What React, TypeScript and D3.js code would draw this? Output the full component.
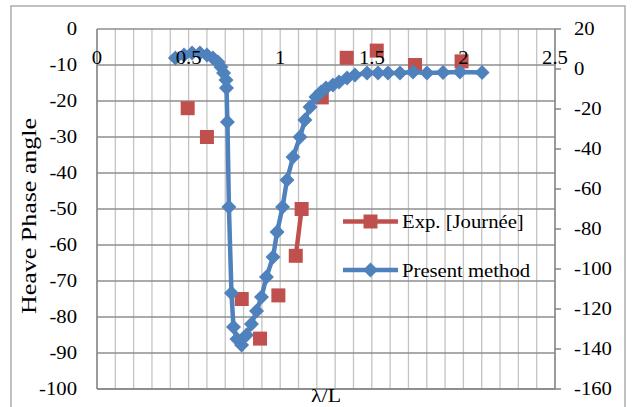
import React from "react";
import * as d3 from "d3";

// ---- data ----
const xTicks = [0, 0.5, 1, 1.5, 2, 2.5];
const leftTicks = [0, -10, -20, -30, -40, -50, -60, -70, -80, -90, -100];
const rightTicks = [20, 0, -20, -40, -60, -80, -100, -120, -140, -160];

// Present method (secondary / right axis)
const presentLambda = [
  0.428, 0.475, 0.519, 0.562, 0.6, 0.633, 0.66, 0.677, 0.691, 0.704, 0.707,
  0.712, 0.72, 0.734, 0.745, 0.764, 0.789, 0.816, 0.843, 0.871, 0.898, 0.925,
  0.961, 0.983, 1.013, 1.037, 1.07, 1.108, 1.135, 1.163, 1.195, 1.223, 1.25,
  1.288, 1.321, 1.365, 1.408, 1.474, 1.534, 1.588, 1.654, 1.725, 1.801, 1.889,
  1.981, 2.102,
];
const presentPhase = [
  5.5, 7, 8, 8, 7, 5.5, 3.5, 1, -2, -5.5, -9.5, -26.5, -69, -112, -129, -135,
  -138, -133, -127.5, -121, -114, -104, -94, -81.5, -69, -55.5, -44, -34,
  -25.5, -19, -14, -11.5, -9.5, -8, -6.5, -4.5, -3, -2, -2, -2, -2, -1.5, -2,
  -1.75, -1.5, -1.75,
];

// Exp. [Journée] (primary / left axis); null = gap between points
const expLambda = [
  0.495, null, 0.6, null, 0.79, null, 0.89, null, 0.99, null, 1.085, 1.117,
  null, 1.227, null, 1.363, null, 1.527, null, 1.736, null, 1.99,
];
const expPhase = [
  -22, null, -30, null, -75, null, -86, null, -74, null, -63, -50, null, -19,
  null, -8, null, -6, null, -10, null, -9,
];

const W = 632;
const H = 407;
const L = 97;
const R = 555;
const T = 29;
const B = 389;

const FONT = "'Liberation Serif', 'Times New Roman', serif";
const BLUE = "#4F81BD";
const RED = "#C0504D";

function Txt({ x, y, anchor = "start", size = 18, children }: any) {
  return (
    <text
      transform={`translate(${x},${y}) scale(1.15,1)`}
      textAnchor={anchor}
      fontFamily={FONT}
      fontSize={size}
      fill="#000"
    >
      {children}
    </text>
  );
}

const diamond = (s: number) => `M0,${-s}L${s},0L0,${s}L${-s},0Z`;
const DS = 7.5; // diamond half-diagonal
const SQ = 14; // square side

export default function App() {
  const x = d3.scaleLinear().domain([0, 2.5]).range([L, R]);
  const yL = d3.scaleLinear().domain([0, -100]).range([T, B]);
  const yR = d3.scaleLinear().domain([20, -160]).range([T, B]);

  const present = presentLambda.map((l, i) => [l, presentPhase[i]] as [number, number]);
  const exp = expLambda.map((l, i) => [l, expPhase[i]] as [number | null, number | null]);

  const presentLine = d3
    .line<[number, number]>()
    .x((d) => x(d[0]))
    .y((d) => yR(d[1]))(present) as string;

  const expLine = d3
    .line<[number | null, number | null]>()
    .defined((d) => d[0] !== null && d[1] !== null)
    .x((d) => x(d[0] as number))
    .y((d) => yL(d[1] as number))(exp) as string;

  const vGrid = d3.range(0, 26).map((i) => i / 10);

  return (
    <svg
      width={W}
      height={H}
      style={{ position: "absolute", left: 0, top: 0, background: "#fff" }}
    >
      <rect x={0} y={0} width={W} height={H} fill="#fff" />
      <rect x={11} y={6} width={614} height={420} fill="none" stroke="#a0a0a0" strokeWidth={1.3} />

      {/* vertical grid */}
      {vGrid.map((v, i) => (
        <line key={"v" + i} x1={x(v)} x2={x(v)} y1={T} y2={B} stroke="#c4c4c4" strokeWidth={1.3} />
      ))}
      {/* horizontal grid */}
      {leftTicks.map((v) => (
        <line key={"h" + v} x1={L} x2={R} y1={yL(v)} y2={yL(v)} stroke="#8e8e8e" strokeWidth={1.3} />
      ))}

      {/* axes */}
      <line x1={L} x2={L} y1={T} y2={B} stroke="#868686" strokeWidth={1.5} />
      <line x1={R} x2={R} y1={T} y2={B} stroke="#868686" strokeWidth={1.5} />
      <line x1={L} x2={R} y1={B} y2={B} stroke="#868686" strokeWidth={1.5} />
      {rightTicks.map((v) => (
        <line key={"rt" + v} x1={R} x2={R + 6} y1={yR(v)} y2={yR(v)} stroke="#868686" strokeWidth={1.5} />
      ))}

      {/* left tick labels */}
      {leftTicks.map((v) => (
        <Txt key={"lt" + v} x={77} y={yL(v) + 6} anchor="end">
          {String(v)}
        </Txt>
      ))}
      {/* right tick labels */}
      {rightTicks.map((v) => (
        <Txt key={"rl" + v} x={574} y={yR(v) + 6} anchor="start">
          {String(v)}
        </Txt>
      ))}

      {/* Exp series */}
      <path d={expLine} fill="none" stroke={RED} strokeWidth={4.5} />
      {exp
        .filter((d) => d[0] !== null)
        .map((d, i) => (
          <rect
            key={"e" + i}
            x={x(d[0] as number) - SQ / 2}
            y={yL(d[1] as number) - SQ / 2}
            width={SQ}
            height={SQ}
            fill={RED}
          />
        ))}

      {/* Present method */}
      <path d={presentLine} fill="none" stroke={BLUE} strokeWidth={4.5} strokeLinejoin="round" />
      {present.map((d, i) => (
        <path
          key={"p" + i}
          d={diamond(DS)}
          transform={`translate(${x(d[0])},${yR(d[1])})`}
          fill={BLUE}
        />
      ))}

      {/* x tick labels (drawn on top) */}
      {xTicks.map((v) => (
        <Txt key={"xt" + v} x={x(v)} y={64} anchor="middle">
          {String(v)}
        </Txt>
      ))}

      {/* legend */}
      <line x1={343} x2={398} y1={221.5} y2={221.5} stroke={RED} strokeWidth={4.5} />
      <rect x={370.5 - SQ / 2} y={221.5 - SQ / 2} width={SQ} height={SQ} fill={RED} />
      <Txt x={402} y={228}>Exp. [Journée]</Txt>
      <line x1={343} x2={398} y1={270} y2={270} stroke={BLUE} strokeWidth={4.5} />
      <path d={diamond(DS)} transform="translate(370.5,270)" fill={BLUE} />
      <Txt x={402} y={277}>Present method</Txt>

      {/* axis titles */}
      <text
        transform="translate(36,216) rotate(-90)"
        textAnchor="middle"
        fontFamily={FONT}
        fontSize={20}
        textLength={196}
        lengthAdjust="spacingAndGlyphs"
      >
        Heave Phase angle
      </text>
      <Txt x={326} y={402} anchor="middle" size={19}>
        λ/L
      </Txt>
    </svg>
  );
}
